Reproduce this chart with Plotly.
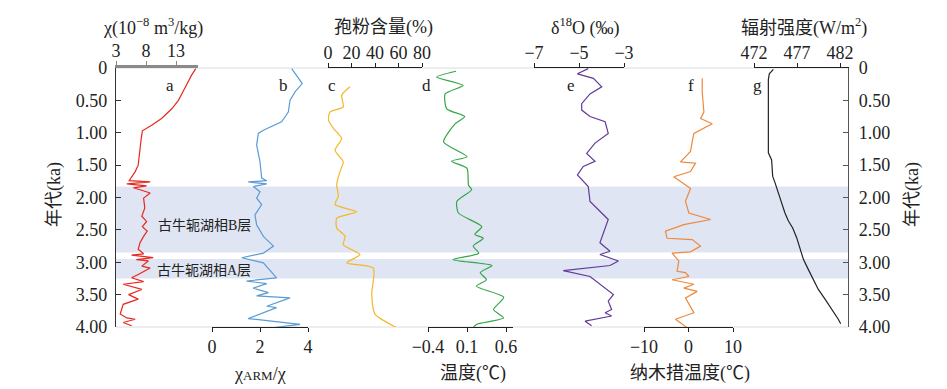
import plotly.graph_objects as go

# ---------------- data ----------------
# a: magnetic susceptibility chi (10^-8 m3/kg)
a_age = [0.01,0.11,0.27,0.40,0.50,0.63,0.78,0.88,0.97,1.09,1.29,1.50,1.60,1.68,1.74,1.76,1.79,1.82,1.85,1.88,1.93,2.01,2.16,2.29,2.37,2.45,2.52,2.60,2.70,2.80,2.87,2.89,2.93,2.96,2.98,3.06,3.09,3.19,3.24,3.30,3.34,3.42,3.50,3.57,3.65,3.80,3.86,3.88,3.93,3.98]
a_val = [16.3,15.6,14.7,13.9,13.4,12.3,10.6,9.0,7.4,7.2,7.0,6.7,6.2,5.6,5.2,8.7,4.8,8.1,5.9,7.0,8.7,7.6,7.8,7.3,8.1,7.4,8.2,7.6,7.0,6.7,7.6,5.6,9.2,6.4,8.4,7.3,8.7,6.7,5.6,7.6,4.2,7.3,5.1,6.7,4.2,3.7,4.8,6.2,4.2,5.6]

# b: chi_ARM / chi
b_age = [0.01,0.24,0.37,0.50,0.68,0.83,0.96,1.01,1.19,1.45,1.70,1.74,1.76,1.79,1.83,1.91,2.01,2.11,2.27,2.42,2.60,2.75,2.86,2.93,3.01,3.24,3.29,3.33,3.40,3.47,3.52,3.55,3.68,3.70,3.87,3.96,4.01]
b_val = [3.32,3.76,3.46,3.25,3.18,2.90,2.14,1.93,1.86,2.00,2.07,2.28,1.51,2.28,1.72,2.00,1.86,2.07,1.79,1.86,2.14,2.56,2.14,1.24,2.14,2.69,1.44,2.28,1.72,2.35,1.86,3.25,2.28,2.69,1.51,3.67,2.56]

# c: pollen content (%)
c_age = [0.29,0.42,0.60,0.68,0.80,0.93,1.09,1.27,1.45,1.60,1.80,1.98,2.11,2.22,2.32,2.47,2.60,2.73,2.88,3.01,3.09,3.50,3.80,4.01]
c_val = [18.7,11.6,13.0,1.7,0.3,4.5,11.6,6.0,13.0,10.2,7.4,8.8,6.0,24.4,7.4,7.4,14.5,13.0,27.2,15.9,38.6,37.2,40.0,58.5]

# d: temperature (deg C)
d_age = [0.05,0.14,0.27,0.40,0.63,0.75,0.86,1.14,1.37,1.44,1.55,1.81,1.88,2.06,2.24,2.45,2.57,2.63,2.75,2.86,2.96,3.05,3.16,3.27,3.37,3.54,3.73,3.86,3.96,4.01]
d_val = [-0.04,-0.29,0.05,-0.18,-0.16,0.07,-0.05,-0.20,0.10,-0.10,0.10,0.12,0.16,-0.03,-0.01,0.29,0.20,0.31,0.18,0.25,-0.08,0.42,0.27,0.35,0.22,0.57,0.44,0.57,0.22,0.18]

# e: delta 18O (permil)
e_age = [0.01,0.09,0.16,0.29,0.40,0.55,0.65,0.75,0.83,1.01,1.16,1.32,1.44,1.52,1.65,1.83,2.06,2.22,2.34,2.70,2.83,2.88,2.98,3.05,3.13,3.22,3.42,3.50,3.60,3.73,3.78,3.83,3.91,3.98]
e_val = [-4.59,-5.07,-4.36,-3.99,-4.51,-4.88,-4.88,-4.51,-3.84,-3.70,-4.29,-4.66,-4.29,-4.81,-5.07,-4.59,-4.51,-4.07,-3.70,-4.07,-3.62,-4.07,-3.25,-3.62,-5.70,-4.51,-3.77,-3.47,-3.70,-3.55,-3.84,-3.55,-4.73,-4.44]

# f: Nam Co temperature (deg C)
f_age = [0.16,0.37,0.68,0.78,0.86,1.01,1.14,1.29,1.45,1.47,1.60,1.68,1.86,2.06,2.24,2.34,2.42,2.52,2.63,2.65,2.75,2.84,2.86,2.98,3.14,3.16,3.22,3.27,3.34,3.40,3.45,3.55,3.78,3.88,4.01]
f_val = [3.08,3.08,3.46,2.71,5.34,1.20,0.83,0.45,-1.81,1.58,0.45,-3.31,0.45,-0.68,0.08,4.97,-1.05,-5.19,-4.81,0.83,2.71,0.45,-3.69,-2.18,-2.56,-0.68,0.08,-3.69,1.20,-1.05,1.96,-0.68,1.20,-2.93,-0.30]

# g: insolation (W/m2)
g_age = [0.02,0.09,0.18,1.31,1.42,1.67,1.77,1.93,2.08,2.24,2.36,2.47,2.62,2.77,2.95,3.11,3.26,3.42,3.57,3.72,3.88,3.95]
g_val = [474.25,473.78,473.67,473.67,474.05,474.17,474.44,474.83,475.22,475.60,475.99,476.50,476.96,477.35,477.73,478.31,478.90,479.48,480.26,481.03,481.80,482.08]

# lake-facies layers (ka)
layer_B = [1.83, 2.85]
layer_A = [2.95, 3.25]

age_ticks = [0, 0.5, 1.0, 1.5, 2.0, 2.5, 3.0, 3.5, 4.0]
age_labels = ["0", "0.50", "1.00", "1.50", "2.00", "2.50", "3.00", "3.50", "4.00"]

# ---------------- layout helpers ----------------
# page body has an 8px margin, so the figure is drawn at (8, 8) in the window
OFF = 8
W, H = 947 - OFF, 389 - OFF
L, R, T, B = 116, 848, 68, 327   # plot area in window pixels
PW, PH = R - L, B - T


def px(x):
    return (x - L) / PW


def py(y):
    return (B - y) / PH


SERIF = "Liberation Serif, Times New Roman, Noto Sans CJK SC, serif"
tickfont = dict(family=SERIF, size=18, color="#222")

fig = go.Figure()


def add(xa, age, val, color, shape="linear"):
    fig.add_trace(go.Scatter(x=val, y=age, xaxis=xa, yaxis="y", mode="lines",
                             line=dict(color=color, width=1.2, shape=shape, smoothing=0.6),
                             showlegend=False, hoverinfo="skip"))


add("x2", a_age, a_val, "#e8281e")
add("x3", b_age, b_val, "#5b9bd5")
add("x4", c_age, c_val, "#f5b628", "spline")
add("x5", d_age, d_val, "#35a645", "spline")
add("x6", e_age, e_val, "#64399a")
add("x7", f_age, f_val, "#ef883a")
add("x8", g_age, g_val, "#222222")


def xaxis(p0, p1, v_at_p0, v_per_px, tickvals, side, linecolor="#222", lw=1.2):
    r0 = v_at_p0
    r1 = v_at_p0 + (p1 - p0) * v_per_px
    return dict(domain=[px(p0), px(p1)], range=[r0, r1], anchor="y", side=side,
                tickvals=tickvals, ticks="outside", ticklen=4,
                tickcolor=linecolor, showline=True, linecolor=linecolor, linewidth=lw,
                showgrid=False, zeroline=False, tickfont=tickfont,
                ticklabelstandoff=(-3 if side == "top" else -1))


layout = dict(
    width=W, height=H,
    margin=dict(l=L - OFF, r=(947 - R), t=T - OFF, b=(389 - B), pad=0),
    plot_bgcolor="rgba(0,0,0,0)", paper_bgcolor="white", showlegend=False,
    xaxis=dict(domain=[0, 1], range=[0, 1], visible=False),
    yaxis=dict(range=[4.0, 0], anchor="x", tickvals=age_ticks, ticktext=age_labels, ticks="inside",
               ticklen=5, tickcolor="#333", showline=True, linecolor="#333", linewidth=1.2,
               showgrid=False, zeroline=False, tickfont=tickfont, ticklabelstandoff=4),
    yaxis2=dict(range=[4.0, 0], overlaying="y", side="right", anchor="x", tickvals=age_ticks,
                ticktext=age_labels, ticks="inside", ticklen=5, tickcolor="#555",
                showline=True, linecolor="#555", linewidth=1.2, showgrid=False,
                zeroline=False, tickfont=tickfont, ticklabelstandoff=6),
    xaxis2=xaxis(116, 198, 3, 1 / 6, [3, 8, 13], "top", linecolor="#8a8a8a", lw=2.5),
    xaxis3=xaxis(212, 308, 0, 1 / 24, [0, 2, 4], "bottom"),
    xaxis4=xaxis(328, 422, 0, 80 / 94, [0, 20, 40, 60, 80], "top"),
    xaxis5=xaxis(428, 513, -0.4, 1 / 78, [-0.4, 0.1, 0.6], "bottom"),
    xaxis6=xaxis(534, 624, -7, 4 / 90, [-7, -5, -3], "top"),
    xaxis7=xaxis(644, 733, -10, 20 / 89, [-10, 0, 10], "bottom"),
    xaxis8=xaxis(754, 848, 472, 10 / 86, [472, 477, 482], "top"),
)
layout["xaxis5"]["ticktext"] = ["\u22120.4", "0.1", "0.6"]
layout["xaxis6"]["ticktext"] = ["\u22127", "\u22125", "\u22123"]
layout["xaxis7"]["ticktext"] = ["\u221210", "0", "10"]
fig.update_layout(**layout)

# invisible trace to activate right axis
fig.add_trace(go.Scatter(x=[0.5], y=[2], xaxis="x", yaxis="y2", mode="markers",
                         marker=dict(opacity=0), showlegend=False, hoverinfo="skip"))

shapes = []
for y0, y1 in (layer_B, layer_A):
    shapes.append(dict(type="rect", xref="paper", yref="y", x0=0, x1=1, y0=y0, y1=y1,
                       fillcolor="#dfe5f3", line=dict(width=0), layer="below"))
for yy in (0, 1):
    shapes.append(dict(type="line", xref="paper", yref="paper", x0=0, x1=1, y0=yy, y1=yy,
                       line=dict(color="#dcdcdc", width=1), layer="below"))
fig.update_layout(shapes=shapes)

ann = []


def text(x, y, s, size=18, angle=0, xanchor="center"):
    ann.append(dict(xref="paper", yref="paper", x=px(x), y=py(y), text=s, showarrow=False,
                    font=dict(family=SERIF, size=size, color="#222"), textangle=angle,
                    xanchor=xanchor, yanchor="middle"))


# top axis titles
text(153, 27, "χ(10<sup>−8</sup> m<sup>3</sup>/kg)")
text(383, 27, "孢粉含量(%)")
text(585, 27, "δ<sup>18</sup>O (‰)")
text(804, 27, "辐射强度(W/m<sup>2</sup>)")
# bottom axis titles
text(260, 374, "χ<span style='font-size:13px'>ARM</span>/χ")
text(473, 373, "温度(℃)")
text(690, 373, "纳木措温度(℃)")
# y titles
text(54, 195, "年代(ka)", angle=-90)
text(912, 195, "年代(ka)", angle=-90)
# panel letters
for x, s in [(170, "a"), (283, "b"), (332, "c"), (426, "d"), (571, "e"), (691, "f"), (757, "g")]:
    text(x, 85, s, size=17)
# layer labels
text(156, 225, "古牛轭湖相B层", size=14, xanchor="left")
text(155, 270, "古牛轭湖相A层", size=14, xanchor="left")
fig.update_layout(annotations=ann)

fig.write_html("out.html")
